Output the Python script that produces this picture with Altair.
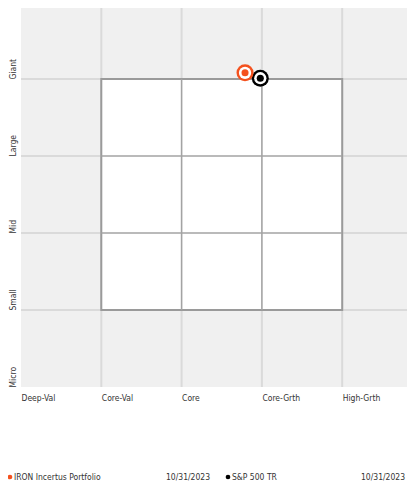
import json
import altair as alt
import pandas as pd

# ---- data ----
style_labels = ["Deep-Val", "Core-Val", "Core", "Core-Grth", "High-Grth"]
size_labels = ["Micro", "Small", "Mid", "Large", "Giant"]
grid_positions = [1, 2, 3, 4]
inner_positions = [2, 3]
series_names = ["IRON Incertus Portfolio", "S&P 500 TR"]
series_dates = ["10/31/2023", "10/31/2023"]
series_x = [2.79, 2.98]
series_y = [4.08, 4.01]
series_colors = ["#f4511e", "#000000"]

W, H = 386, 379
XMAX = 4.807
YMAX = 4.922
FONT = "Liberation Sans Narrow, Arial Narrow, DejaVu Sans Condensed, Roboto, sans-serif"
FS = 8.5

xscale = alt.Scale(domain=[0, XMAX], nice=False, zero=False)
yscale = alt.Scale(domain=[0, YMAX], nice=False, zero=False)

x_axis = alt.Axis(
    values=[0, 1, 2, 3, 4], grid=False, domain=False, ticks=False,
    labelExpr=json.dumps(style_labels) + "[datum.value]",
    labelAlign="left", labelBaseline="top", labelPadding=6, title=None,
    labelFont=FONT, labelFontSize=FS, labelColor="#333",
)
y_axis = alt.Axis(
    values=[0, 1, 2, 3, 4], grid=False, domain=False, ticks=False,
    labelExpr=json.dumps(size_labels) + "[datum.value]",
    labelAngle=270, labelAlign="left", labelBaseline="bottom", labelPadding=4,
    title=None, labelFont=FONT, labelFontSize=FS, labelColor="#333",
)

gx = pd.DataFrame({"v": grid_positions})
gy = pd.DataFrame({"v": grid_positions})

vgrid = alt.Chart(gx).mark_rule(color="#dadada", strokeWidth=2).encode(
    x=alt.X("v:Q", scale=xscale, axis=x_axis),
    y=alt.value(0), y2=alt.value(H),
)
hgrid = alt.Chart(gy).mark_rule(color="#dadada", strokeWidth=2).encode(
    y=alt.Y("v:Q", scale=yscale, axis=y_axis),
    x=alt.value(0), x2=alt.value(W),
)

box_df = pd.DataFrame({"x1": [grid_positions[0]], "x2": [grid_positions[-1]],
                       "y1": [grid_positions[0]], "y2": [grid_positions[-1]]})
box = alt.Chart(box_df).mark_rect(fill="white", stroke="#9a9a9a", strokeWidth=2).encode(
    x=alt.X("x1:Q", scale=xscale, axis=x_axis), x2="x2:Q",
    y=alt.Y("y1:Q", scale=yscale, axis=y_axis), y2="y2:Q",
)

inner_df = pd.DataFrame({"v": inner_positions, "lo": [1] * len(inner_positions),
                         "hi": [4] * len(inner_positions)})
ivert = alt.Chart(inner_df).mark_rule(color="#a3a3a3", strokeWidth=1.6).encode(
    x=alt.X("v:Q", scale=xscale, axis=x_axis),
    y=alt.Y("lo:Q", scale=yscale, axis=y_axis), y2="hi:Q",
)
ihorz = alt.Chart(inner_df).mark_rule(color="#a3a3a3", strokeWidth=1.6).encode(
    y=alt.Y("v:Q", scale=yscale, axis=y_axis),
    x=alt.X("lo:Q", scale=xscale, axis=x_axis), x2="hi:Q",
)

pts = pd.DataFrame({"name": series_names, "x": series_x, "y": series_y,
                    "color": series_colors, "date": series_dates})

orange_pts = pts.iloc[[0]]
black_pts = pts.iloc[[1]]

def series_marker(df):
    layers = []
    for s, w in [(290, False), (150, True), (50, False)]:
        enc = dict(
            x=alt.X("x:Q", scale=xscale, axis=x_axis),
            y=alt.Y("y:Q", scale=yscale, axis=y_axis),
            color=alt.value("white") if w else alt.Color("color:N", scale=None),
        )
        layers.append(alt.Chart(df).mark_circle(size=s, opacity=1).encode(**enc))
    return layers

# legend entries
LY = 469
def legend_entry(df, dot_x, name_x, date_x):
    base = alt.Chart(df)
    dot = base.mark_circle(size=22, opacity=1).encode(
        x=alt.value(dot_x), y=alt.value(LY), color=alt.Color("color:N", scale=None))
    name = base.mark_text(align="left", baseline="middle", font=FONT, fontSize=FS,
                          color="#333").encode(x=alt.value(name_x), y=alt.value(LY), text="name:N")
    date = base.mark_text(align="left", baseline="middle", font=FONT, fontSize=FS,
                          color="#333").encode(x=alt.value(date_x), y=alt.value(LY), text="date:N")
    return [dot, name, date]

layers = [vgrid, hgrid, box, ivert, ihorz]
layers += series_marker(black_pts)
layers += series_marker(orange_pts)
layers += legend_entry(orange_pts, -11, -7, 145)
layers += legend_entry(black_pts, 207, 211, 340)

chart = alt.layer(*layers).properties(
    width=W, height=H,
    autosize=alt.AutoSizeParams(type="none"),
    padding={"left": 13, "top": 0, "right": 0, "bottom": 94},
).configure_view(fill="#f0f0f0", stroke=None)

chart.save("out.html", embed_options={"renderer": "svg", "actions": False})
